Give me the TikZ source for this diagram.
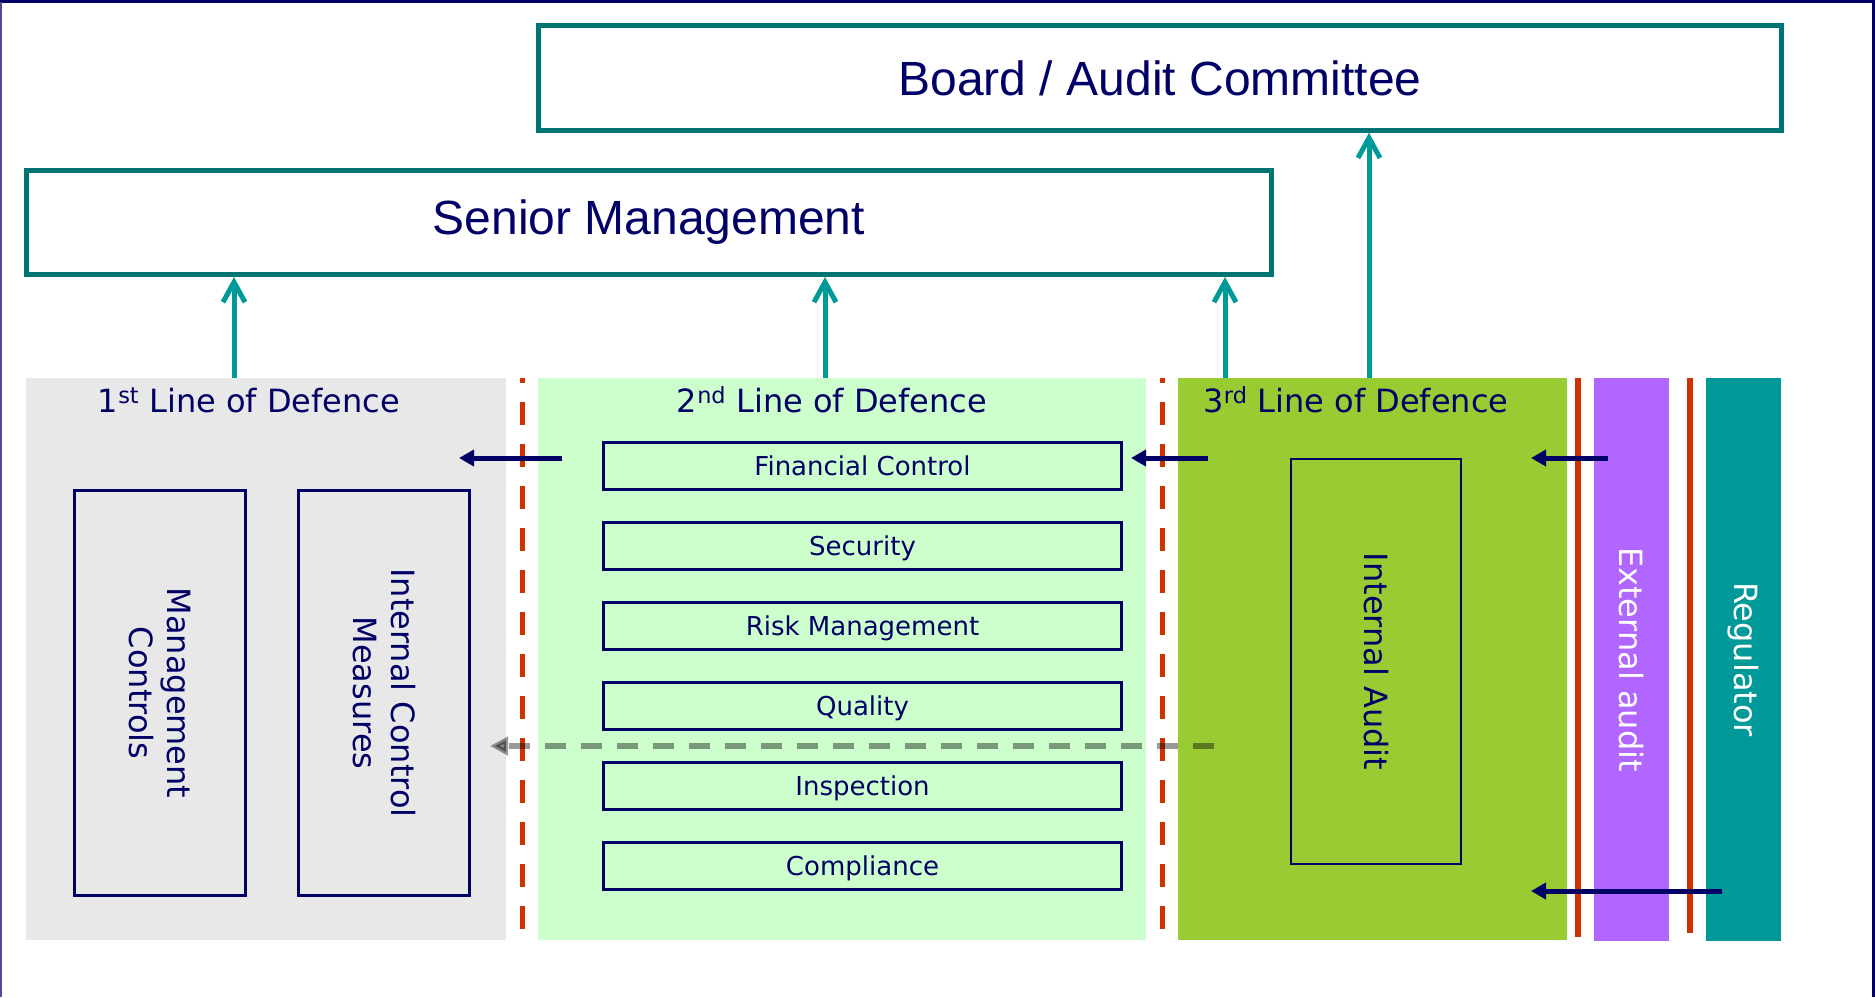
\documentclass[tikz,border=0pt]{standalone}
\usepackage{fontspec}
\setmainfont{DejaVu Sans}
\newfontfamily\arialfont{Liberation Sans}
\usetikzlibrary{arrows.meta}

\definecolor{ink}{HTML}{000066}
\definecolor{boxteal}{HTML}{007373}
\definecolor{arrowteal}{HTML}{009999}
\definecolor{lodgray}{HTML}{E8E8E8}
\definecolor{lodlight}{HTML}{CCFFCC}
\definecolor{lodgreen}{HTML}{99CC33}
\definecolor{extpurple}{HTML}{B066FF}
\definecolor{wallred}{HTML}{CC3300}

\begin{document}
\begin{tikzpicture}[x=1pt, y=-1pt,
    panel/.style={inner sep=0pt, minimum height=562pt},
    band/.style={rotate=-90, inner sep=0pt, minimum width=563pt, minimum height=75pt, text=white, font=\fontsize{32}{38}\selectfont},
    lodtitle/.style={inner sep=0pt, text=ink, font=\fontsize{32}{38}\selectfont},
    topbox/.style={draw=boxteal, line width=5pt, inner sep=0pt, text=ink, font=\arialfont\fontsize{48}{56}\selectfont},
    item/.style={draw=ink, line width=3pt, inner sep=0pt, minimum width=518pt, minimum height=47pt, text=ink, font=\fontsize{26}{31}\selectfont, text height=19.8pt, text depth=0pt},
    vbox/.style={draw=ink, line width=2.5pt, rotate=-90, inner sep=0pt, align=center, text=ink, font=\fontsize{32}{38}\selectfont},
    wall/.style={wallred, line width=5pt},
    report/.style={arrowteal, line width=5pt, -{Straight Barb[length=20pt,width=22pt]}},
    feed/.style={ink, line width=5pt, -{Triangle[length=15pt,width=16pt]}},
    probe/.style={black, opacity=.4, line width=6pt, dash pattern=on 21pt off 15pt, -{Triangle[length=18pt,width=18pt]}}]

    \useasboundingbox (0,0) rectangle (1875,997);

    % frame
    \draw [ink, line width=3pt] (1873.5,997) -- (1873.5,1.5) -- (0,1.5);
    \draw [ink!70, line width=1.5pt] (0.75,1.5) -- (0.75,997);

    % lines of defence
    \node (L1) at (266,659) [panel, fill=lodgray, minimum width=480pt] {};
    \node (L2) at (842,659) [panel, fill=lodlight, minimum width=608pt] {};
    \node (L3) at (1372.5,659) [panel, fill=lodgreen, minimum width=389pt] {};
    \node (EA) at (1631.5,659.5) [band, fill=extpurple] {External audit};
    \node (RG) at (1743.5,659.5) [band, fill=arrowteal] {Regulator};

    \node (T1) at (249,400) [lodtitle] {1\textsuperscript{st} Line of Defence};
    \node (T2) at (832,400) [lodtitle] {2\textsuperscript{nd} Line of Defence};
    \node (T3) at (1356,400) [lodtitle] {3\textsuperscript{rd} Line of Defence};

    % walls
    \draw [wall, dash pattern=on 23pt off 19pt, dash phase=18pt] (522,378) -- (522,930);
    \draw [wall, dash pattern=on 23pt off 19pt, dash phase=18pt] (1162,378) -- (1162,930);
    \draw [wall, line width=6pt] (1578,378) -- (1578,937);
    \draw [wall, line width=6pt] (1690,378) -- (1690,933);

    % first line
    \node (MC) at (160,693) [vbox, minimum width=405pt, minimum height=171pt] {Management\\Controls};
    \node (ICM) at (384,693) [vbox, minimum width=405pt, minimum height=171pt] {Internal Control\\Measures};

    % second line
    \node (FC) at (862.5,466) [item] {Financial Control};
    \node (SE) at (862.5,546) [item] {Security};
    \node (RM) at (862.5,626) [item] {Risk Management};
    \node (QU) at (862.5,706) [item] {Quality};
    \node (IN) at (862.5,786) [item] {Inspection};
    \node (CO) at (862.5,866) [item] {Compliance};

    % third line
    \node (IA) at (1376,661.5) [vbox, minimum width=405pt, minimum height=170pt] {Internal Audit};

    % governance
    \node (BAC) at (1160,78) [topbox, minimum width=1243.5pt, minimum height=104.5pt] {Board / Audit Committee};
    \node (SM) at (649,222.5) [topbox, minimum width=1244.5pt, minimum height=104pt] {Senior Management};

    % reporting
    \coordinate (r1) at (234,0);
    \coordinate (r2) at (825,0);
    \coordinate (r3) at (1225,0);
    \coordinate (r4) at (1369,0);
    \draw [report] (L1.north -| r1) -- (SM.south -| r1);
    \draw [report] (L2.north -| r2) -- (SM.south -| r2);
    \draw [report] (L3.north -| r3) -- (SM.south -| r3);
    \draw [report] (L3.north -| r4) -- (BAC.south -| r4);

    % oversight
    \coordinate (f1) at (562,458);
    \coordinate (t1) at (459,458);
    \coordinate (f2) at (1208,458);
    \coordinate (t2) at (1131,458);
    \coordinate (f3) at (1608,458);
    \coordinate (t3) at (1531,458);
    \coordinate (f4) at (1722,891);
    \coordinate (t4) at (1531,891);
    \draw [feed] (f1) -- (t1);
    \draw [feed] (f2) -- (t2);
    \draw [feed] (f3) -- (t3);
    \draw [feed] (f4) -- (t4);

    % audit reach
    \coordinate (g1) at (1214,746);
    \coordinate (g2) at (490,746);
    \draw [probe] (g1) -- (g2);

\end{tikzpicture}
\end{document}
